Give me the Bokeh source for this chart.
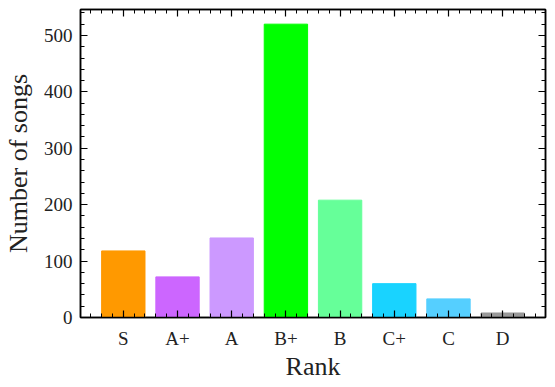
from bokeh.plotting import figure
from bokeh.models import FixedTicker, SingleIntervalTicker, LinearAxis, Range1d, ColumnDataSource, CustomJSTickFormatter
from bokeh.embed import file_html
from bokeh.resources import INLINE
import numpy as np

ranks = ["S", "A+", "A", "B+", "B", "C+", "C", "D"]
counts = [118, 72, 141, 520, 208, 60, 33, 8]
colors = ["#FF9900", "#CC66FF", "#CC99FF", "#00FF00", "#66FF99", "#19D3FF", "#55CFFF", "#999999"]

xpos = list(range(len(ranks)))
src = ColumnDataSource(dict(x=xpos, top=counts, color=colors, rank=ranks))

FONT = "Liberation Serif"

p = figure(frame_width=465, frame_height=308, output_backend="svg", toolbar_location=None,
           x_range=Range1d(-0.79, len(ranks) - 1 + 0.79), y_range=Range1d(0, 546),
           min_border_left=77, min_border_right=2, min_border_top=9, min_border_bottom=56)
p.vbar(x="x", top="top", width=0.8, bottom=0, color="color", source=src)

p.grid.visible = False
p.outline_line_color = "black"
p.outline_line_width = 1.5

minor_x = [round(v, 1) for v in np.arange(-0.6, len(ranks) - 1 + 0.7, 0.2)]

def style(ax, labels=True):
    ax.major_tick_in = 7
    ax.major_tick_out = 0
    ax.minor_tick_in = 4
    ax.minor_tick_out = 0
    ax.axis_line_color = "black"
    ax.axis_line_width = 1.5
    ax.major_tick_line_color = "black"
    ax.minor_tick_line_color = "black"
    ax.major_tick_line_width = 1.2
    ax.minor_tick_line_width = 1
    ax.major_label_text_font = FONT
    ax.major_label_text_font_size = "19px"
    ax.major_label_text_color = "#222222"
    ax.axis_label_text_font = FONT
    ax.axis_label_text_font_size = "26px"
    ax.axis_label_text_font_style = "normal"
    ax.axis_label_text_color = "#222222"
    if not labels:
        ax.formatter = CustomJSTickFormatter(code="return '';")
        ax.major_label_standoff = 0
        ax.axis_label_standoff = 0

xt = FixedTicker(ticks=xpos, minor_ticks=minor_x)
yt = SingleIntervalTicker(interval=100, num_minor_ticks=5)

p.xaxis.ticker = xt
p.xaxis.major_label_overrides = {i: r for i, r in enumerate(ranks)}
p.xaxis.axis_label = "Rank"
p.yaxis.ticker = yt
p.yaxis.axis_label = "Number of songs"
style(p.xaxis[0])
style(p.yaxis[0])
p.xaxis.major_label_standoff = 10
p.yaxis.major_label_standoff = 8
p.xaxis.axis_label_standoff = 0
p.yaxis.axis_label_standoff = 8

top = LinearAxis(ticker=FixedTicker(ticks=xpos, minor_ticks=minor_x))
style(top, labels=False)
right = LinearAxis(ticker=SingleIntervalTicker(interval=100, num_minor_ticks=5))
style(right, labels=False)
p.add_layout(top, "above")
p.add_layout(right, "right")

open("out.html", "w").write(file_html(p, INLINE))
